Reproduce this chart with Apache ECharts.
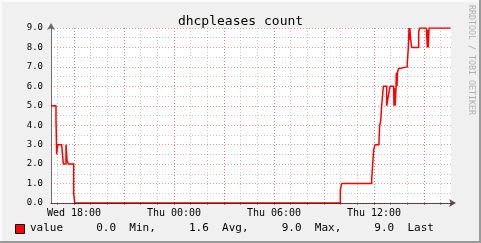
<!DOCTYPE html>
<html>
<head>
<meta charset="utf-8">
<script src="https://cdn.jsdelivr.net/npm/echarts@6/dist/echarts.min.js"></script>
<style>
html,body{margin:0;padding:0;background:#f0f0f0;}
#c{width:481px;height:243px;}
</style>
</head>
<body>
<div id="c"></div>
<script>
// Time in hours since Wed 00:00 (24 = Thu 00:00)
const times = [
  16.62, 16.92, 16.96, 17.02, 17.26, 17.36, 17.52, 17.58, 17.66, 17.98, 18.04,
  33.98, 34.06, 35.86, 35.92, 35.98, 36.06, 36.30, 36.34, 36.40, 36.46, 36.56,
  36.76, 36.86, 36.96, 37.18, 37.20, 37.24, 37.27, 37.32, 37.34, 37.38, 37.41,
  37.46, 37.54, 38.00, 38.06, 38.10, 38.13, 38.15, 38.20, 38.26, 38.68, 38.74,
  39.14, 39.20, 39.23, 39.26, 39.30, 40.58
];
const values = [
  5.0, 4.3, 2.5, 3.0, 2.9, 2.0, 3.0, 2.2, 2.0, 0.5, 0.0,
  0.67, 1.0, 1.18, 2.0, 2.73, 3.0, 3.16, 4.0, 4.2, 5.0, 6.0,
  5.0, 5.5, 6.0, 5.9, 5.0, 5.9, 5.0, 5.9, 6.7, 6.0, 6.7,
  6.9, 7.0, 7.2, 8.0, 9.0, 8.4, 9.0, 8.4, 8.0, 8.8, 9.0,
  8.9, 8.0, 8.9, 8.0, 9.0, 9.0
];
const xLabelValues = [18, 24, 30, 36];
const xLabelTexts = ['Wed 18:00', 'Thu 00:00', 'Thu 06:00', 'Thu 12:00'];
const xMajorValues = [18, 21, 24, 27, 30, 33, 36, 39];
const xMinorValues = [17,18,19,20,21,22,23,24,25,26,27,28,29,30,31,32,33,34,35,36,37,38,39,40];
const statValues = ['0.0', '1.6', '9.0', '9.0'];
const statNames = ['Min,', 'Avg,', 'Max,', 'Last'];
const seriesName = 'value';
const titleText = 'dhcpleases count';
const sideText = 'RRDTOOL / TOBI OETIKER';

const XMIN = 16.62, XMAX = 40.62;
const mono = 'DejaVu Sans Mono';
const majorColor = 'rgba(222,48,48,0.5)';
const minorColor = 'rgba(150,150,150,0.5)';

let legendStr = seriesName.padEnd(10);
for (let i = 0; i < statValues.length; i++) {
  legendStr += statValues[i] + '  ' + statNames[i] + (i < statValues.length - 1 ? '     ' : '');
}

const chart = echarts.init(document.getElementById('c'), null, {renderer: 'canvas'});
chart.setOption({
  backgroundColor: '#f0f0f0',
  animation: false,
  title: {
    text: titleText, left: 'center', top: 10,
    textStyle: {fontFamily: mono, fontSize: 13, fontWeight: 'normal', color: '#000'}
  },
  grid: {left: 51, top: 28, width: 400, height: 175, show: true, backgroundColor: '#fff', borderWidth: 0},
  xAxis: [
    { // minor grid
      type: 'value', min: XMIN, max: XMAX, gridIndex: 0, position: 'bottom', offset: 0, z: 0,
      axisLine: {show: false},
      axisTick: {show: true, customValues: xMinorValues, length: 2, lineStyle: {color: '#999'}},
      axisLabel: {show: false},
      splitLine: {show: true, lineStyle: {color: minorColor, type: [1, 2], width: 1}}
    },
    { // major grid + labels
      type: 'value', min: XMIN, max: XMAX, gridIndex: 0, position: 'bottom', offset: 0, z: 0,
      axisLine: {show: false},
      axisTick: {show: true, customValues: xMajorValues, length: 2, lineStyle: {color: '#d66'}},
      axisLabel: {
        show: true, customValues: xLabelValues, margin: 5,
        fontFamily: mono, fontSize: 10, color: '#000',
        formatter: v => { const i = xLabelValues.indexOf(Math.round(v)); return i >= 0 ? xLabelTexts[i] : ''; }
      },
      splitLine: {show: true, lineStyle: {color: majorColor, type: [1, 2], width: 1}}
    },
    { // axis line with arrow
      type: 'value', min: XMIN, max: XMAX, gridIndex: 0, position: 'bottom', offset: 0, z: 5,
      axisLine: {show: true, lineStyle: {color: 'rgba(40,0,0,0.7)', width: 1},
        symbol: ['none', 'arrow'], symbolSize: [6, 7], symbolOffset: [0, 5]},
      axisTick: {show: false}, axisLabel: {show: false}, splitLine: {show: false}
    }
  ],
  yAxis: [
    {
      type: 'value', min: 0, max: 9, interval: 1, z: 0,
      axisLine: {show: true, lineStyle: {color: 'rgba(60,60,60,0.75)', width: 1},
        symbol: ['none', 'arrow'], symbolSize: [6, 7], symbolOffset: [0, 5]},
      axisTick: {show: false},
      axisLabel: {show: true, margin: 8, fontFamily: mono, fontSize: 9, color: '#000',
        formatter: v => v.toFixed(1)},
      splitLine: {show: true, lineStyle: {color: majorColor, type: [1, 2], width: 1}},
      minorTick: {show: false, splitNumber: 2},
      minorSplitLine: {show: true, lineStyle: {color: minorColor, type: [1, 2], width: 1}}
    }
  ],
  series: [{
    type: 'line', name: seriesName, xAxisIndex: 0, yAxisIndex: 0,
    step: 'end', showSymbol: false, symbol: 'none', z: 2,
    lineStyle: {color: '#ff0000', width: 1.5},
    data: times.map((t, i) => [t, values[i]])
  }],
  graphic: [
    {type: 'rect', left: 0, top: 0, shape: {width: 481, height: 2}, style: {fill: '#fafafa'}, silent: true},
    {type: 'rect', left: 0, top: 0, shape: {width: 2, height: 243}, style: {fill: '#fafafa'}, silent: true},
    {type: 'rect', left: 0, top: 241, shape: {width: 481, height: 2}, style: {fill: '#9a9a9a'}, silent: true},
    {type: 'rect', left: 479, top: 0, shape: {width: 2, height: 243}, style: {fill: '#9a9a9a'}, silent: true},
    {type: 'rect', left: 15, top: 224, shape: {width: 9, height: 9},
      style: {fill: '#ff0000', stroke: '#000', lineWidth: 1}, silent: true},
    {type: 'text', left: 30, top: 223,
      style: {text: legendStr, fontFamily: mono, fontSize: 11, fill: '#000'}, silent: true},
    {type: 'text', x: 467, y: 5, rotation: -Math.PI / 2,
      style: {text: sideText, fontFamily: mono, fontSize: 8.3, fill: '#b0b0b0', textAlign: 'left', textVerticalAlign: 'bottom'},
      silent: true}
  ]
});
</script>
</body>
</html>
